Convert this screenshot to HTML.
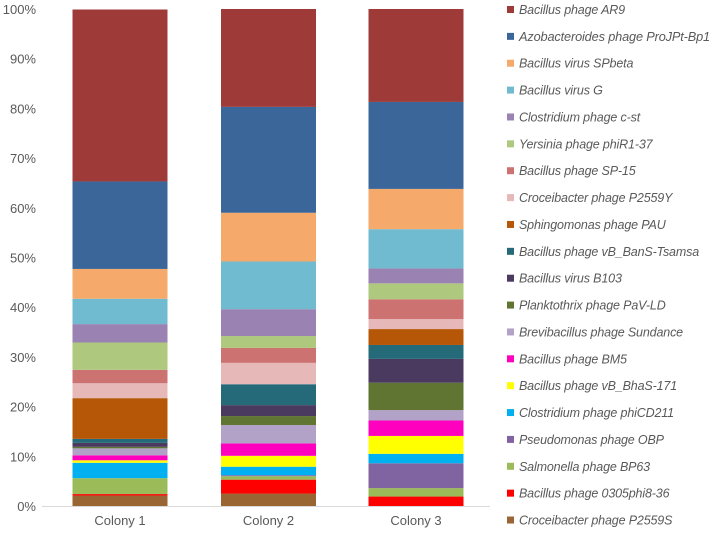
<!DOCTYPE html>
<html><head><meta charset="utf-8"><style>
body{margin:0;background:#fff;width:714px;height:536px;overflow:hidden;font-family:"Liberation Sans",sans-serif}
svg text{fill:#595959}
</style></head><body>
<svg id="chart" width="714" height="536" xmlns="http://www.w3.org/2000/svg"></svg>
<script>
const categories = ["Colony 1","Colony 2","Colony 3"];
const seriesNames = ["Croceibacter phage P2559S","Bacillus phage 0305phi8-36","Salmonella phage BP63","Pseudomonas phage OBP","Clostridium phage phiCD211","Bacillus phage vB_BhaS-171","Bacillus phage BM5","Brevibacillus phage Sundance","Planktothrix phage PaV-LD","Bacillus virus B103","Bacillus phage vB_BanS-Tsamsa","Sphingomonas phage PAU","Croceibacter phage P2559Y","Bacillus phage SP-15","Yersinia phage phiR1-37","Clostridium phage c-st","Bacillus virus G","Bacillus virus SPbeta","Azobacteroides phage ProJPt-Bp1","Bacillus phage AR9"];
const seriesColors = ["#996633","#FF0000","#9BBB59","#8064A2","#00B0F0","#FFFF00","#FF00BF","#B3A2C7","#617532","#4A3A60","#256A79","#B65708","#E6B9B8","#CC7270","#AEC87E","#9A82B3","#70BBD0","#F5A96A","#3B6699","#9E3B39"];
const colony1 = [2.1,0.3,3.2,0,3.1,0.5,1.0,1.4,0.3,0.8,0.8,8.2,3.0,2.7,5.5,3.7,5.1,6.0,17.6,34.6];
const colony2 = [2.5,2.8,0.7,0.2,1.7,2.2,2.5,3.7,1.8,2.2,4.2,0,4.3,3.0,2.4,5.4,9.6,9.8,21.3,19.7];
const colony3 = [0,1.9,1.7,5.0,1.9,3.6,3.1,2.1,5.5,4.8,2.8,3.2,2.0,4.0,3.2,3.0,7.9,8.1,17.5,18.7];
const yTicks = ["0%","10%","20%","30%","40%","50%","60%","70%","80%","90%","100%"];
const data=[colony1,colony2,colony3];
const svg=document.getElementById('chart');
const NS='http://www.w3.org/2000/svg';
const y0=506,y100=9;
function yScale(p){return y0-(y0-y100)*p/100;}
const barX=[72.5,221,368.5], barW=95;
function xScale(i){return barX[i];}
function mk(t,a){const e=document.createElementNS(NS,t);for(const k in a)e.setAttribute(k,a[k]);svg.appendChild(e);return e;}
yTicks.forEach((t,i)=>{
  const e=mk('text',{x:36,y:yScale(i*10)+5,'text-anchor':'end','font-size':'13'});
  e.textContent=t;
  
  
});
data.forEach((vals,ci)=>{
  let cum=0;
  vals.forEach((v,si)=>{
    if(v<=0){return;}
    const top=yScale(cum+v),bot=yScale(cum);
    const r=mk('rect',{x:xScale(ci),y:top,width:barW,height:bot-top,fill:seriesColors[si]});
    
    
    cum+=v;
  });
  const t=mk('text',{x:xScale(ci)+barW/2,y:525,'text-anchor':'middle','font-size':'13'});
  t.textContent=categories[ci];
  
  
});
const ax=mk('line',{x1:42,x2:490,y1:y0+0.5,y2:y0+0.5,stroke:'#D9D9D9','stroke-width':1});


for(let k=0;k<20;k++){
  const si=19-k, yy=9.5+k*26.87;
  const s=mk('rect',{x:507,y:yy-3.5,width:7,height:7,fill:seriesColors[si]});
  
  
  const t=mk('text',{x:519,y:yy+4.5,'font-size':'12.5','font-style':'italic',fill:'#404040','letter-spacing':'-0.15'});
  t.textContent=seriesNames[si];
  if(si===18){t.setAttribute('textLength','191');t.setAttribute('lengthAdjust','spacingAndGlyphs');}
  
  
}
</script>
</body></html>
